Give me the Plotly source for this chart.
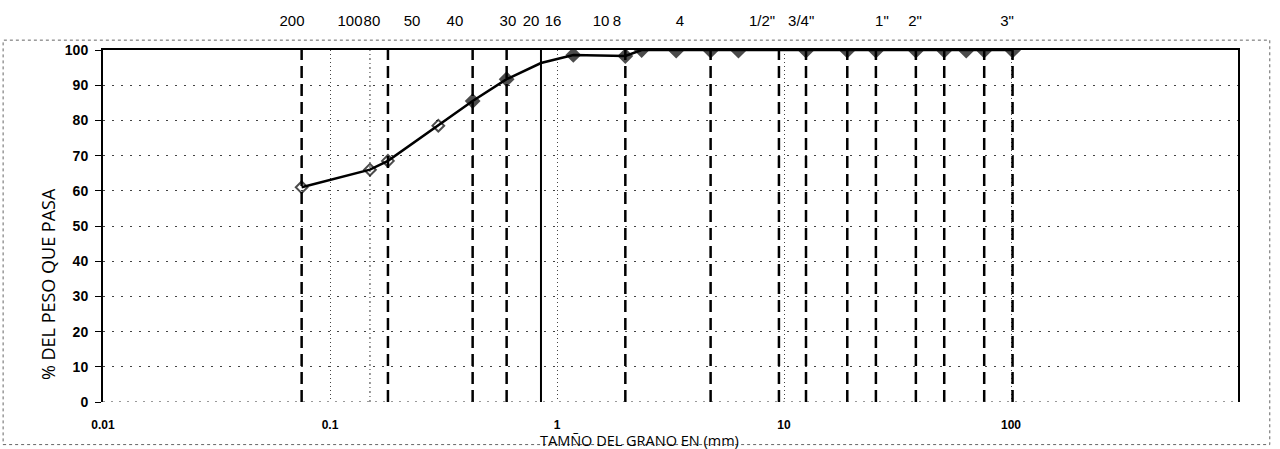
import plotly.graph_objects as go

# Grain size distribution (sieve analysis)
diametro_mm = [0.075, 0.15, 0.18, 0.30, 0.425, 0.60, 0.85, 1.18, 2.00, 2.36,
               3.35, 4.75, 6.30, 12.5, 19.0, 25.4, 38.1, 50.8, 63.5, 76.2, 101.6]
pasa_pct = [61.0, 66.0, 68.5, 78.5, 85.5, 91.7, 96.3, 98.6, 98.3, 100.0,
            100.0, 100.0, 100.0, 100.0, 100.0, 100.0, 100.0, 100.0, 100.0, 100.0, 100.0]
simbolos = ["diamond-open", "diamond-open", "diamond-open", "diamond-open",
            "diamond", "diamond", "diamond", "diamond", "diamond", "diamond",
            "diamond", "diamond", "diamond", "diamond", "diamond", "diamond",
            "diamond", "diamond", "diamond", "diamond", "diamond"]
tamanos = [9, 9, 9, 9, 10, 10, 0, 10, 10, 10, 11, 11, 11, 11, 11, 11, 11, 11, 11, 11, 11]

# Sieve reference lines
tamices_discontinuos = [0.075, 0.18, 0.425, 0.60, 2.00, 4.75, 9.5, 12.5,
                        19.0, 25.4, 38.1, 50.8, 76.2, 101.6]
tamiz_continuo = [0.85]
tamiz_punteado = [0.15]

# Sieve names along the top axis
etiquetas_tamiz = ["200", "100", "80", "50", "40", "30", "20", "16", "10", "8",
                   "4", "1/2\"", "3/4\"", "1\"", "2\"", "3\""]
posiciones_tamiz = [0.068, 0.1225, 0.153, 0.23, 0.355, 0.608, 0.768, 0.960,
                    1.563, 1.837, 3.48, 8.0, 11.9, 27.0, 37.8, 96.0]

# Axis tick labels
ticks_x = [0.01, 0.1, 1, 10, 100]
texto_x = ["0.01", "0.1", "1", "10", "100"]
ticks_y = [0, 10, 20, 30, 40, 50, 60, 70, 80, 90, 100]


def verticales(valores):
    xs, ys = [], []
    for v in valores:
        xs += [v, v, None]
        ys += [0, 100, None]
    return xs, ys


fig = go.Figure()

xs, ys = verticales(tamiz_punteado)
fig.add_trace(go.Scatter(x=xs, y=ys, mode="lines", hoverinfo="skip",
                         line=dict(color="#333333", width=1, dash="2px,3px,1px,3px")))

xs, ys = verticales(tamices_discontinuos)
fig.add_trace(go.Scatter(x=xs, y=ys, mode="lines", hoverinfo="skip",
                         line=dict(color="black", width=2.5, dash="12px,6px")))

xs, ys = verticales(tamiz_continuo)
fig.add_trace(go.Scatter(x=xs, y=ys, mode="lines", hoverinfo="skip",
                         line=dict(color="black", width=2)))

# Bottom boundary of the plot (dotted)
fig.add_trace(go.Scatter(x=[0.01, 1000], y=[0, 0], mode="lines", hoverinfo="skip",
                         line=dict(color="#333333", width=1, dash="2px,6px")))

fig.add_trace(go.Scatter(
    x=diametro_mm, y=pasa_pct, mode="lines+markers",
    line=dict(color="black", width=2.5),
    marker=dict(symbol=simbolos, size=tamanos, color="black",
                line=dict(color="black", width=2)),
))

# invisible trace so the top axis is rendered
fig.add_trace(go.Scatter(x=[0.01, 1000], y=[None, None], xaxis="x2",
                         mode="lines", hoverinfo="skip", showlegend=False))

fig.update_layout(
    width=1280, height=449,
    margin=dict(l=103, r=42, t=47, b=47),
    paper_bgcolor="white", plot_bgcolor="white",
    showlegend=False,
    font=dict(family="Liberation Sans, Arial, sans-serif", color="black"),
    xaxis=dict(
        type="log", range=[-2, 3],
        tickvals=ticks_x, ticktext=texto_x,
        tickfont=dict(size=12, weight="bold"),
        ticks="outside", ticklen=12, tickcolor="rgba(0,0,0,0)",
        showgrid=True, gridcolor="#444444", gridwidth=1, griddash="1px,3px",
        showline=False, zeroline=False,
    ),
    xaxis2=dict(
        type="log", range=[-2, 3], overlaying="x", side="top", anchor="y",
        tickvals=posiciones_tamiz, ticktext=etiquetas_tamiz, tickangle=0,
        tickfont=dict(size=15),
        ticks="outside", ticklen=16, tickcolor="rgba(0,0,0,0)",
        showgrid=False, showline=True, linecolor="black", linewidth=2,
        zeroline=False,
    ),
    yaxis=dict(
        range=[0, 100], tickvals=ticks_y,
        tickfont=dict(size=14, weight="bold"),
        ticks="outside", ticklen=6, tickcolor="black", tickwidth=1,
        ticklabelstandoff=4,
        showgrid=True, gridcolor="#444444", gridwidth=1, griddash="2px,7px",
        showline=True, mirror=True, linecolor="black", linewidth=2,
        zeroline=False,
    ),
    annotations=[
        dict(text="TAMÑO DEL GRANO EN (mm)", xref="paper", yref="paper",
             x=0.473, y=-0.11, showarrow=False, xanchor="center", yanchor="middle",
             font=dict(family="Open Sans, sans-serif", size=14.5)),
        dict(text="% DEL PESO QUE PASA", xref="paper", yref="paper",
             x=-0.0485, y=0.335, showarrow=False, textangle=-90,
             xanchor="center", yanchor="middle",
             font=dict(family="Open Sans, sans-serif", size=18)),
    ],
    shapes=[
        dict(type="rect", xref="paper", yref="paper",
             x0=-0.088, x1=1.028, y0=-0.121, y1=1.028,
             line=dict(color="#666666", width=1, dash="dot")),
    ],
)

fig.write_html("out.html")
